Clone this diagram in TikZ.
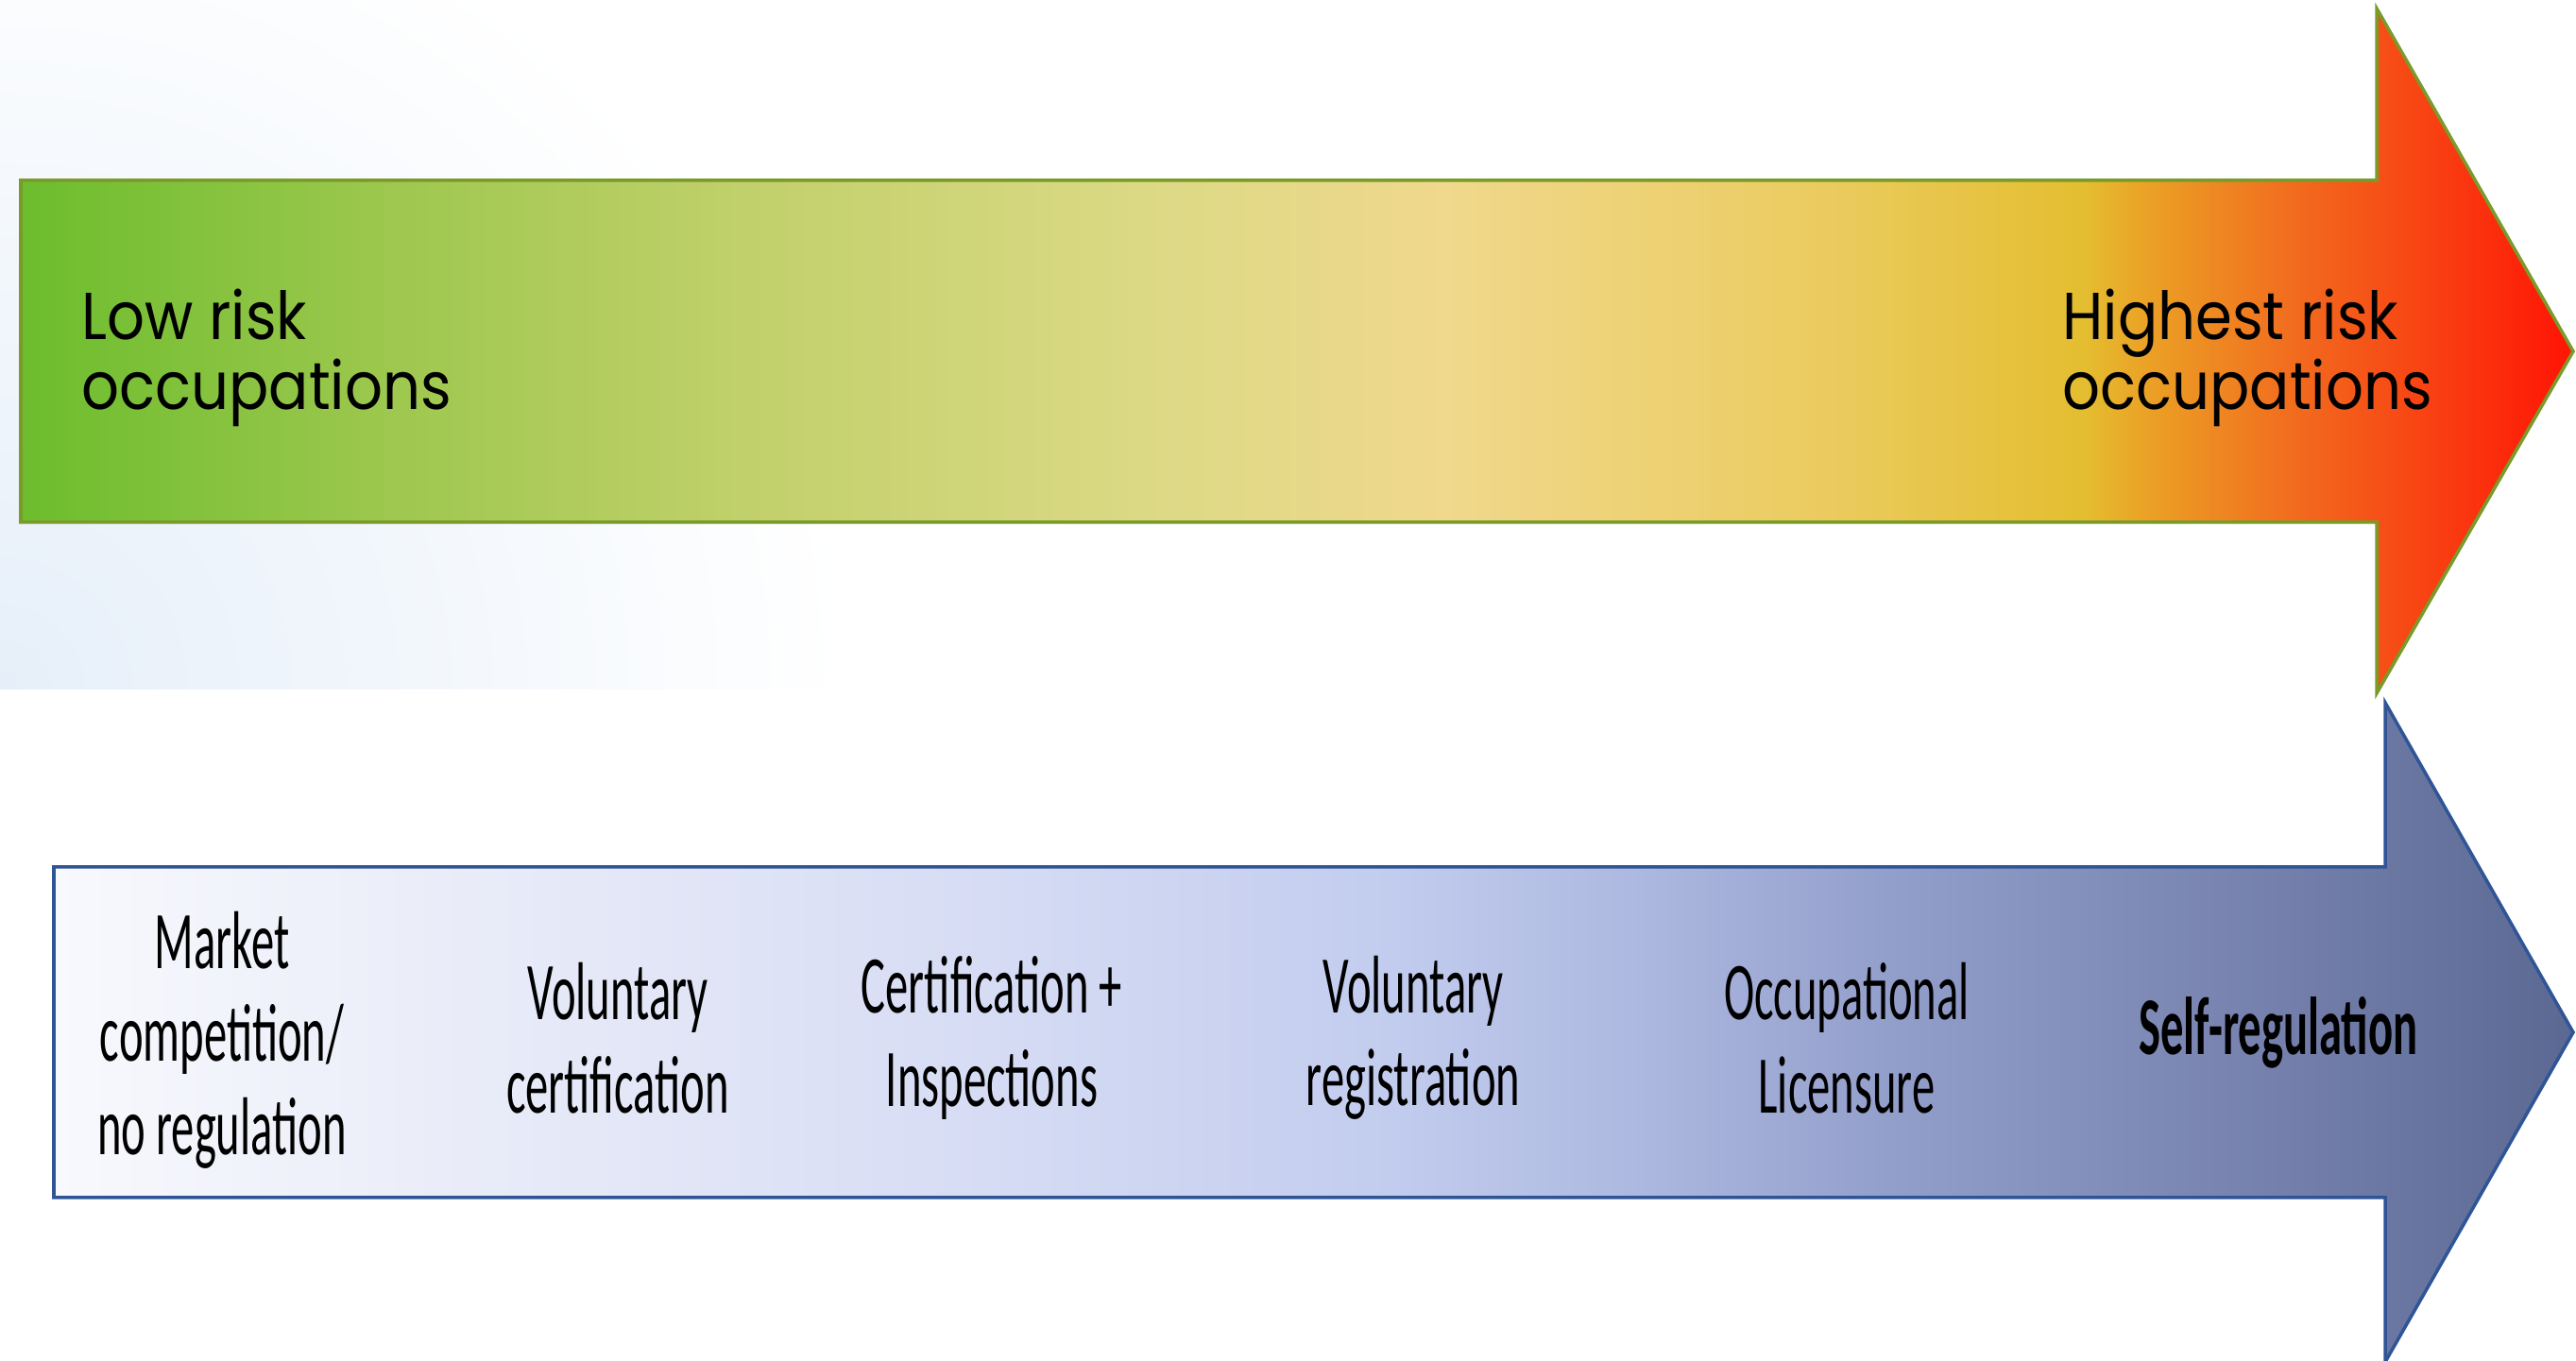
\documentclass[tikz,border=0pt]{standalone}
\usepackage{fontspec}
\newfontfamily\riskfont[FakeStretch=0.89]{Poppins}
\newfontfamily\regfont[FakeStretch=0.56]{Carlito}

\definecolor{riskline}{HTML}{7A9A2A}
\definecolor{regline}{HTML}{2F5597}
\definecolor{glow}{HTML}{E6EFF9}
% top arrow: green to red
\definecolor{rsa}{HTML}{6CBD2D}
\definecolor{rsb}{HTML}{A0C850}
\definecolor{rsc}{HTML}{C0D06A}
\definecolor{rsd}{HTML}{DCD985}
\definecolor{rse}{HTML}{F0D88C}
\definecolor{rsf}{HTML}{EBCC62}
\definecolor{rsg}{HTML}{E4BE30}
\definecolor{rsh}{HTML}{EBA025}
\definecolor{rsi}{HTML}{F26A1E}
\definecolor{rsj}{HTML}{FF1405}
% bottom arrow: white to slate blue
\definecolor{gsa}{HTML}{F8F9FD}
\definecolor{gsb}{HTML}{E8EBF8}
\definecolor{gsc}{HTML}{D6DCF4}
\definecolor{gsd}{HTML}{C2CCEE}
\definecolor{gse}{HTML}{ADB8E0}
\definecolor{gsf}{HTML}{939FCB}
\definecolor{gsg}{HTML}{737FAA}
\definecolor{gsh}{HTML}{5A6892}

\pgfdeclarehorizontalshading{riskshade}{100bp}{color(0bp)=(rsa); color(25bp)=(rsa);
  color(32.6bp)=(rsb); color(39bp)=(rsc); color(47.1bp)=(rsd); color(52.9bp)=(rse);
  color(60bp)=(rsf); color(65.4bp)=(rsg); color(66.7bp)=(rsh); color(69.6bp)=(rsi);
  color(75bp)=(rsj); color(100bp)=(rsj)}
\pgfdeclarehorizontalshading{regshade}{100bp}{color(0bp)=(gsa); color(25bp)=(gsa);
  color(33.7bp)=(gsb); color(43.5bp)=(gsc); color(51.6bp)=(gsd); color(56.5bp)=(gse);
  color(61.4bp)=(gsf); color(69.5bp)=(gsg); color(75bp)=(gsh); color(100bp)=(gsh)}

\tikzset{
	riskarrow/.style={draw=riskline, line width=1pt, shading=riskshade},
	regarrow/.style={draw=regline, line width=1pt, shading=regshade},
	risklabel/.style={font=\riskfont\fontsize{20}{21}\selectfont, align=left, anchor=west},
	reglabel/.style={font=\regfont\fontsize{24.7}{28}\selectfont, align=center}
}

\begin{document}
\begin{tikzpicture}
	\useasboundingbox (0,0) rectangle (27.27,14.41);
	\fill[white] (0,0) rectangle (27.27,14.41);
	\begin{scope}
		\clip (0,7.11) rectangle (27.27,14.41);
		\shade[inner color=glow, outer color=white] (0,7.11) circle [radius=9];
	\end{scope}

	\path[riskarrow] (0.22,12.50) -- (25.16,12.50) -- (25.16,14.32) -- (27.24,10.69)
		-- (25.16,7.07) -- (25.16,8.88) -- (0.22,8.88) -- cycle;
	\path[regarrow] (0.57,5.23) -- (25.25,5.23) -- (25.25,6.97) -- (27.24,3.48)
		-- (25.25,-0.01) -- (25.25,1.73) -- (0.57,1.73) -- cycle;

	\node[risklabel] (low) at (0.74,10.62) {Low risk\\occupations};
	\node[risklabel] (high) at (21.71,10.62) {Highest risk\\occupations};

	\node[reglabel] (market) at (2.35,3.40) {Market\\competition/\\no regulation};
	\node[reglabel] (volcert) at (6.54,3.42) {Voluntary\\certification};
	\node[reglabel] (certinsp) at (10.50,3.42) {Certification +\\Inspections};
	\node[reglabel] (volreg) at (14.96,3.42) {Voluntary\\registration};
	\node[reglabel] (licence) at (19.55,3.42) {Occupational\\Licensure};
	\node[reglabel, font=\regfont\bfseries\fontsize{24.7}{28}\selectfont] (selfreg) at (24.12,3.48) {Self-regulation};
\end{tikzpicture}
\end{document}
